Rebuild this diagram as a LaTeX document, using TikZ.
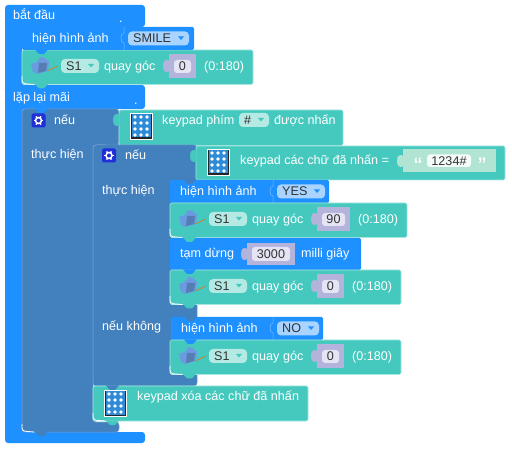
\documentclass[tikz,border=0pt]{standalone}
\usepackage{fontspec}
\setmainfont{Liberation Sans}
\usepackage{xcolor}
\definecolor{armblue}{HTML}{1E90FF}
\definecolor{ifblue}{HTML}{4280BE}
\definecolor{tealblk}{HTML}{45C9BE}
\definecolor{tealedge}{HTML}{A5E6E0}
\definecolor{lavblk}{HTML}{B3B3DC}
\definecolor{lavfield}{HTML}{E4E4F4}
\definecolor{dropblue}{HTML}{A8D4FF}
\definecolor{dropteal}{HTML}{B5EAE4}
\definecolor{strgreen}{HTML}{B2E4D4}
\definecolor{gearblue}{HTML}{2030D8}
\definecolor{keyblue}{HTML}{2E8BD8}
\definecolor{servoblue}{HTML}{6A9BE0}
\tikzstyle{lbl} = [anchor=base west, inner sep=0pt, text=white, font=\fontsize{12.6}{14}\selectfont]
\tikzstyle{val} = [anchor=base, inner sep=0pt, text=black!80, font=\fontsize{12.6}{14}\selectfont]
\tikzstyle{tealbox} = [fill=tealblk, draw=tealedge, line width=0.6pt, rounded corners=1.5pt]
\tikzstyle{bluebox} = [fill=armblue, rounded corners=1.5pt]
\tikzstyle{ifbox} = [fill=ifblue, draw=ifblue!70!white, line width=0.5pt, rounded corners=3pt]
% stack tab hanging below a block
\newcommand{\stacktab}[3]{\fill[#3] (#1+13,#2-0.5) -- (#1+17,#2+4) -- (#1+22,#2+4) -- (#1+26,#2-0.5) -- cycle;}
% value tab left of an input
\newcommand{\inputtab}[3]{\fill[#3] (#1+0.5,#2-5) .. controls (#1-3,#2-7) and (#1-6,#2-6) .. (#1-6,#2) .. controls (#1-6,#2+6) and (#1-3,#2+7) .. (#1+0.5,#2+5) -- cycle;}
% dropdown: name, x0, x1, center y, text, fill, arrow colour
\newcommand{\dropdown}[7]{
  \fill[#6, rounded corners=4pt] (#2,#4-7) rectangle (#3,#4+7);
  \node[val, anchor=base west] (#1) at (#2+5,#4+4.3) {#5};
  \fill[#7] (#3-11,#4-2) -- (#3-5,#4-2) -- (#3-8,#4+1.5) -- cycle;
}
\newcommand{\keypadicon}[3]{
  \begin{scope}[shift={(#2,#3)}]
    \node[draw=white, fill=black!85, line width=0.6pt, minimum width=22pt, minimum height=26pt, inner sep=0pt, anchor=north west] (#1) at (0,0) {};
    \fill[keyblue] (1.5,1.5) rectangle (20.5,24.5);
    \foreach \row in {0,1,2,3}
      \foreach \col in {0,1,2}
        \fill[white] (5+\col*6,4+\row*6) circle (1.9pt);
  \end{scope}
}
\newcommand{\gearicon}[3]{
  \begin{scope}[shift={(#2,#3)}]
    \node[fill=gearblue, rounded corners=2pt, minimum size=14pt, inner sep=0pt] (#1) at (0,0) {};
    \foreach \ang in {0,60,...,300}
      \draw[white, line width=1.5pt] (\ang:2.5) -- (\ang:4.8);
    \draw[white, line width=1.5pt] (0,0) circle (3pt);
  \end{scope}
}
% servo line: name, x, y, shadow width, value
\newcommand{\servoblock}[5]{
  \begin{scope}[shift={(#2,#3)}]
    \draw[tealbox] (0,0) -- (204+#4,0) -- (204+#4,34.5) -- (0,34.5) -- cycle;
    \draw[white, line width=0.8pt, rounded corners=3pt] (0,26) -- (0,33.5) -- (12,34.5);
    \stacktab{0}{34.5}{tealblk}
    % servo icon
    \draw[brown!80!orange, line width=0.8pt] (25,21) -- (36,16);
    \fill[servoblue] (9,14) -- (15,12) -- (18,7) -- (23,8) -- (27,12) -- (26,21) -- (15,24) -- (11,22) -- cycle;
    \fill[servoblue!80!black] (17,13) -- (25,13) -- (24,21) -- (16,23) -- cycle;
    \dropdown{#1s}{39}{77}{16}{S1}{dropteal}{tealblk}
    \node[lbl] (#1q) at (82,20.5) {quay góc};
    \inputtab{147}{16}{lavblk}
    \fill[lavblk] (147,4) rectangle (147+#4,28);
    \fill[lavfield, rounded corners=3pt] (152,10) rectangle (142+#4,23);
    \node[val] (#1v) at (147+#4/2,21) {#5};
    \node[lbl] (#1r) at (155+#4,20.5) {(0:180)};
  \end{scope}
}
% show image line: name, x, y, width, drop x0, x1, text
\newcommand{\showblock}[7]{
  \begin{scope}[shift={(#2,#3)}]
    \fill[bluebox] (0,0) rectangle (#4,23);
    \stacktab{0}{23}{armblue}
    \node[lbl] (#1) at (10,16) {hiện hình ảnh};
    \draw[armblue!60!white, line width=0.5pt] (#5-4,0) -- (#5-4,6) .. controls (#5-8,5) and (#5-8,17) .. (#5-4,16) -- (#5-4,23);
    \dropdown{#1d}{#5}{#6}{11.5}{#7}{dropblue}{armblue}
  \end{scope}
}
\begin{document}
\begin{tikzpicture}[x=1pt, y=-1pt]
  \useasboundingbox (0,0) rectangle (512,449);

  % Outer blue arms
  \fill[armblue, rounded corners=3pt] (5,5) -- (145,5) -- (145,27) -- (22,27) -- (22,85) -- (145,85) -- (145,109) -- (22,109) -- (22,432) -- (145,432) -- (145,443) -- (5,443) -- cycle;
  \node[lbl] (start) at (13,20) {bắt đầu};
  \node[lbl] (startdot) at (119,23) {.};
  \node[lbl] (loop) at (13,102) {lặp lại mãi};
  \node[lbl] (loopdot) at (134,105) {.};

  % First stack
  \servoblock{servoa}{22}{50}{27}{0}
  \showblock{showa}{22}{27}{172}{106}{167}{SMILE}
  \stacktab{22}{27}{armblue}

  % Outer if
  \draw[ifbox] (22,109) -- (119,109) -- (119,145) -- (93,145) -- (93,422) -- (119,422) -- (119,432) -- (22,432) -- cycle;
  \stacktab{22}{109}{armblue}
  \gearicon{geara}{38.5}{120.5}
  \node[lbl] (ifa) at (54,125) {nếu};
  \node[lbl] (doa) at (31,159) {thực hiện};
  \draw[tealbox] (119,110) rectangle (343,145.5);
  \inputtab{119}{120}{tealblk}
  \keypadicon{keya}{130}{113}
  \node[lbl] (keytexta) at (162,125) {keypad phím};
  \dropdown{keyhash}{239}{269}{120}{\#}{dropteal}{tealblk}
  \node[lbl] (keytextb) at (274,125) {được nhấn};

  % Inner if
  \draw[ifbox] (93,145) -- (197,145) -- (197,386) -- (93,386) -- cycle;
  \stacktab{93}{145}{ifblue}
  \gearicon{gearb}{109}{155.5}
  \node[lbl] (ifb) at (125,160) {nếu};
  \node[lbl] (dob) at (102,195) {thực hiện};
  \draw[tealbox] (196,146) rectangle (505,180);
  \inputtab{196}{156}{tealblk}
  \keypadicon{keyb}{207}{149}
  \node[lbl] (keytextc) at (240,165) {keypad các chữ đã nhấn =};
  \inputtab{403}{161}{strgreen}
  \fill[strgreen] (403,149.5) rectangle (496,172.5);
  \node[val, text=white, font=\fontsize{24}{24}\selectfont] (quoteopen) at (418,174.5) {“};
  \fill[white!85!strgreen, rounded corners=3pt] (427,154.5) rectangle (471,167);
  \node[val] (passcode) at (449,165.5) {1234\#};
  \node[val, text=white, font=\fontsize{24}{24}\selectfont] (quoteclose) at (482,174.5) {”};

  % Then branch
  \showblock{showb}{170}{180}{159}{107}{155}{YES}
  \stacktab{170}{180}{ifblue}
  \servoblock{servob}{170}{203}{33}{90}
  \fill[bluebox] (170,238) rectangle (361,270);
  \stacktab{170}{270}{armblue}
  \stacktab{170}{238}{tealblk}
  \node[lbl] (wait) at (180,258) {tạm dừng};
  \inputtab{247}{254}{lavblk}
  \fill[lavblk] (247,243) rectangle (295,265);
  \fill[lavfield, rounded corners=3pt] (252,247) rectangle (290,261);
  \node[val] (waitval) at (271,258.5) {3000};
  \node[lbl] (waitunit) at (301,258) {milli giây};
  \servoblock{servoc}{170}{270}{27}{0}
  \stacktab{170}{270}{armblue}

  % Else branch
  \node[lbl] (elsea) at (102,331) {nếu không};
  \showblock{showc}{171}{317}{152}{106}{148}{NO}
  \stacktab{171}{317}{ifblue}
  \servoblock{servod}{170}{340}{27}{0}
  \stacktab{171}{340}{armblue}

  % Clear step
  \draw[tealbox] (93,386) -- (308,386) -- (308,421) -- (93,421) -- cycle;
  \draw[white, line width=0.8pt, rounded corners=3pt] (93,413) -- (93,420) -- (105,421);
  \stacktab{93}{421}{tealblk}
  \stacktab{93}{386}{ifblue}
  \keypadicon{keyc}{104}{390}
  \node[lbl] (clear) at (137,401) {keypad xóa các chữ đã nhấn};
  \draw[white, line width=0.8pt, rounded corners=3pt] (22,424) -- (22,431) -- (34,432);
  \stacktab{22}{432}{ifblue}
\end{tikzpicture}
\end{document}
